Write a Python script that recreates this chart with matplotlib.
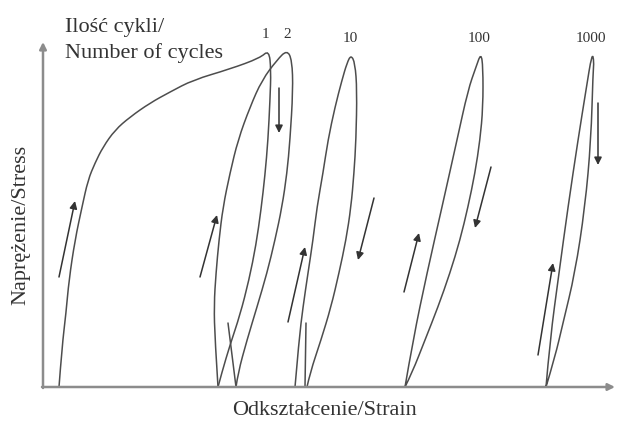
import matplotlib.pyplot as plt
from matplotlib.path import Path
from matplotlib.patches import PathPatch

# Schematic stress-strain loops (arbitrary units, origin at the axes corner)
# Each branch: strain (x) and stress (y) points

load_1_x = [16, 19, 23, 26, 32, 39, 45, 52, 60, 72, 87, 107, 127, 150, 187, 217, 226]
load_1_y = [0, 40, 74, 107, 147, 180, 207, 224, 240, 257, 270, 284, 295, 307, 318, 329, 337]
unload_1_x = [226, 228, 227, 225, 222, 218, 213, 206, 197, 187, 179, 175]
unload_1_y = [337, 317, 287, 247, 212, 177, 142, 107, 72, 42, 15, 0]

load_2_x = [175, 172, 171, 173, 176, 180, 187, 195, 207, 219, 234, 244]
load_2_y = [0, 47, 82, 114, 147, 180, 214, 247, 280, 307, 327, 337]
unload_2_x = [244, 249, 250, 247, 244, 239, 232, 224, 214, 204, 195, 193]
unload_2_y = [337, 327, 297, 247, 214, 180, 147, 114, 80, 47, 14, 0]
tick_2_x = [193, 185]
tick_2_y = [0, 64]

load_10_x = [252, 256, 260, 265, 270, 274, 280, 285, 292, 299, 304, 308]
load_10_y = [0, 47, 80, 114, 147, 180, 214, 247, 280, 307, 324, 332]
unload_10_x = [308, 312, 314, 313, 311, 308, 303, 296, 288, 278, 267, 264]
unload_10_y = [332, 324, 297, 247, 214, 180, 147, 114, 80, 47, 14, 0]
tick_10_x = [262, 263]
tick_10_y = [0, 64]

load_100_x = [362, 370, 384, 399, 414, 425, 433, 438]
load_100_y = [0, 47, 114, 180, 247, 297, 320, 334]
unload_100_x = [438, 440, 440, 437, 432, 425, 417, 407, 395, 382, 369, 362]
unload_100_y = [334, 320, 280, 247, 214, 180, 147, 114, 80, 47, 14, 0]

load_1000_x = [503, 507, 516, 525, 535, 543, 549]
load_1000_y = [0, 47, 114, 180, 247, 297, 334]
unload_1000_x = [549, 551, 550, 548, 542, 532, 520, 512, 503]
unload_1000_y = [334, 326, 314, 247, 180, 114, 64, 30, 0]

# direction arrows: (tail x, tail y, head x, head y)
arrows = [
    (16, 110, 32, 186),
    (236, 299, 236, 254),
    (157, 110, 174, 172),
    (245, 65, 262, 140),
    (331, 189, 315, 127),
    (361, 95, 376, 154),
    (448, 220, 432, 159),
    (495, 32, 510, 124),
    (555, 284, 555, 222),
]

cycle_labels = ['1', '2', '10', '100', '1000']
cycle_label_x = [222, 244, 307, 436, 548]
cycle_label_y = [349, 349, 345, 345, 345]

plt.rcParams['font.family'] = ['Liberation Serif', 'DejaVu Serif']

fig = plt.figure(figsize=(6.17, 4.21), dpi=100)
ax = fig.add_axes([0, 0, 1, 1])
ax.set_xlim(-43, 574)
ax.set_ylim(-34, 387)
ax.axis('off')

curve_color = '#4d4d4d'


def smooth_path(xs, ys):
    # quadratic B-spline style path through the read points (drawn by matplotlib)
    pts = list(zip(xs, ys))
    if len(pts) < 3:
        return Path(pts)
    verts = [pts[0]]
    codes = [Path.MOVETO]
    for i in range(1, len(pts) - 1):
        end = pts[i + 1] if i == len(pts) - 2 else (
            (pts[i][0] + pts[i + 1][0]) / 2, (pts[i][1] + pts[i + 1][1]) / 2)
        verts += [pts[i], end]
        codes += [Path.CURVE3, Path.CURVE3]
    return Path(verts, codes)


# each loop drawn as one stroke: loading then unloading
branches = [
    (load_1_x + unload_1_x[1:], load_1_y + unload_1_y[1:]),
    (load_2_x + unload_2_x[1:], load_2_y + unload_2_y[1:]),
    (tick_2_x, tick_2_y),
    (load_10_x + unload_10_x[1:], load_10_y + unload_10_y[1:]),
    (tick_10_x, tick_10_y),
    (load_100_x + unload_100_x[1:], load_100_y + unload_100_y[1:]),
    (load_1000_x + unload_1000_x[1:], load_1000_y + unload_1000_y[1:]),
]
for bx, by in branches:
    ax.add_patch(PathPatch(smooth_path(bx, by), facecolor='none',
                           edgecolor=curve_color, lw=1.1, capstyle='round'))

for x0, y0, x1, y1 in arrows:
    ax.annotate('', xy=(x1, y1), xytext=(x0, y0),
                arrowprops=dict(arrowstyle='-|>', color='#333333', lw=1.1,
                                mutation_scale=11, shrinkA=0, shrinkB=0))

# axes with arrow heads
axis_style = dict(arrowstyle='-|>', color='#8c8c8c', lw=1.8,
                  mutation_scale=10, shrinkA=0, shrinkB=0)
ax.annotate('', xy=(572, 0), xytext=(-1, 0), arrowprops=axis_style)
ax.annotate('', xy=(0, 345), xytext=(0, -1), arrowprops=axis_style)

for lab, lx, ly in zip(cycle_labels, cycle_label_x, cycle_label_y):
    ax.text(lx, ly, lab, fontsize=11, ha='center', va='baseline', color='#333333')

ax.text(22, 355, 'Ilość cykli/', fontsize=16, ha='left', va='baseline', color='#333333')
ax.text(22, 329, 'Number of cycles', fontsize=16, ha='left', va='baseline', color='#333333')
ax.text(189, -28, 'Odkształcenie/Strain', fontsize=16, ha='left', va='baseline', color='#333333')
ax.text(-22, 162, 'Naprężenie/Stress', fontsize=16, rotation=90, ha='center', va='center',
        color='#333333')

plt.savefig('out.png', dpi=100)
